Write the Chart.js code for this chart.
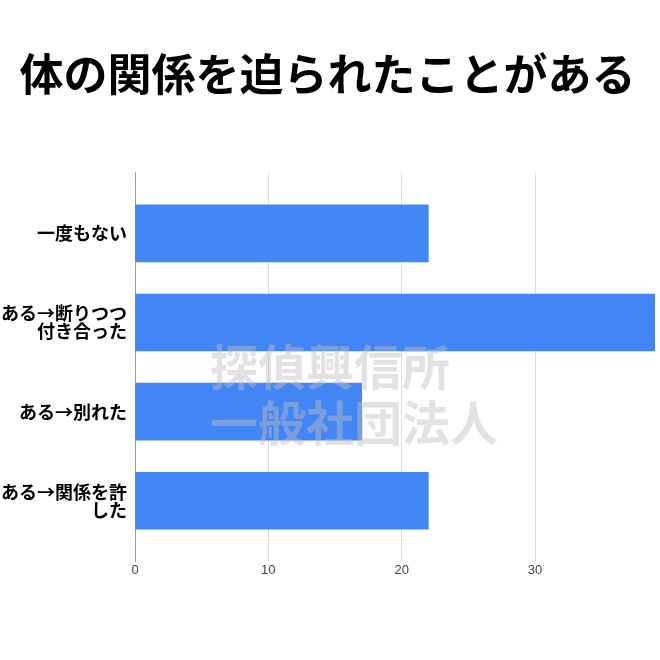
<!DOCTYPE html>
<html>
<head>
<meta charset="utf-8">
<script src="https://cdn.jsdelivr.net/npm/chart.js@4"></script>
<style>
  html, body { margin: 0; padding: 0; background: #fff; }
  #wrap { width: 660px; height: 660px; }
</style>
</head>
<body>
<div id="wrap"><canvas id="chart"></canvas></div>
<script>
// categories (multi-line labels)
const categories = [
  ["一度もない"],
  ["ある→断りつつ", "付き合った"],
  ["ある→別れた"],
  ["ある→関係を許", "した"],
];
// answers count
const counts = [22, 39, 17, 22];
// x ticks
const xTicks = [0, 10, 20, 30];
const titleText = "体の関係を迫られたことがある";
const watermarkLines = ["探偵興信所", "一般社団法人"];

const jpFont = "'Noto Sans CJK JP', 'Noto Sans', sans-serif";

//watermark drawn over the bars
const watermarkPlugin = {
  id: "watermark",
  afterDatasetsDraw(chart) {
    const ctx = chart.ctx;
    ctx.save();
    ctx.font = `bold 48px ${jpFont}`;
    ctx.fillStyle = "rgba(190,190,190,0.45)";
    ctx.textAlign = "left";
    ctx.textBaseline = "middle";
    ctx.fillText(watermarkLines[0], 210, 367);
    ctx.fillText(watermarkLines[1], 210, 423);
    ctx.restore();
  },
};

const chart = new Chart(document.getElementById("chart"), {
  type: "bar",
  data: {
    datasets: [
      {
        data: counts.map((v, i) => ({ x: v, y: i })),
        backgroundColor: "#4285F4",
        borderWidth: 0,
        barThickness: 57,
      },
    ],
  },
  options: {
    indexAxis: "y",
    responsive: true,
    maintainAspectRatio: false,
    animation: false,
    layout: { padding: { left: 0, right: 5, bottom: 81 } },
    plugins: {
      legend: { display: false },
      tooltip: { enabled: false },
      title: {
        display: true,
        text: titleText,
        color: "#000",
        font: { family: jpFont, size: 44, weight: "bold", lineHeight: 1.2 },
        padding: { top: 48, bottom: 72 },
      },
    },
    scales: {
      x: {
        type: "linear",
        min: 0,
        max: 39,
        grid: { color: "#dddddd", drawTicks: false },
        border: { display: false },
        afterBuildTicks: (s) => { s.ticks = xTicks.map((v) => ({ value: v })); },
        ticks: {
          padding: 1,
          color: "#444",
          font: { family: "'Liberation Sans', Arial, sans-serif", size: 13 },
        },
      },
      y: {
        type: "linear",
        reverse: true,
        offset: false,
        min: -0.68,
        max: 3.68,
        grid: { display: false, offset: false, drawTicks: false },
        border: { display: true, color: "#9e9e9e", width: 1 },
        afterFit: (s) => { s.width = 135; },
        ticks: {
          stepSize: 1,
          includeBounds: false,
          autoSkip: false,
          padding: 8,
          color: "#000",
          font: { family: jpFont, size: 18, weight: "bold", lineHeight: 1.0 },
          callback: (v) => categories[v] ?? "",
        },
      },
    },
  },
  plugins: [watermarkPlugin],
});
</script>
</body>
</html>
